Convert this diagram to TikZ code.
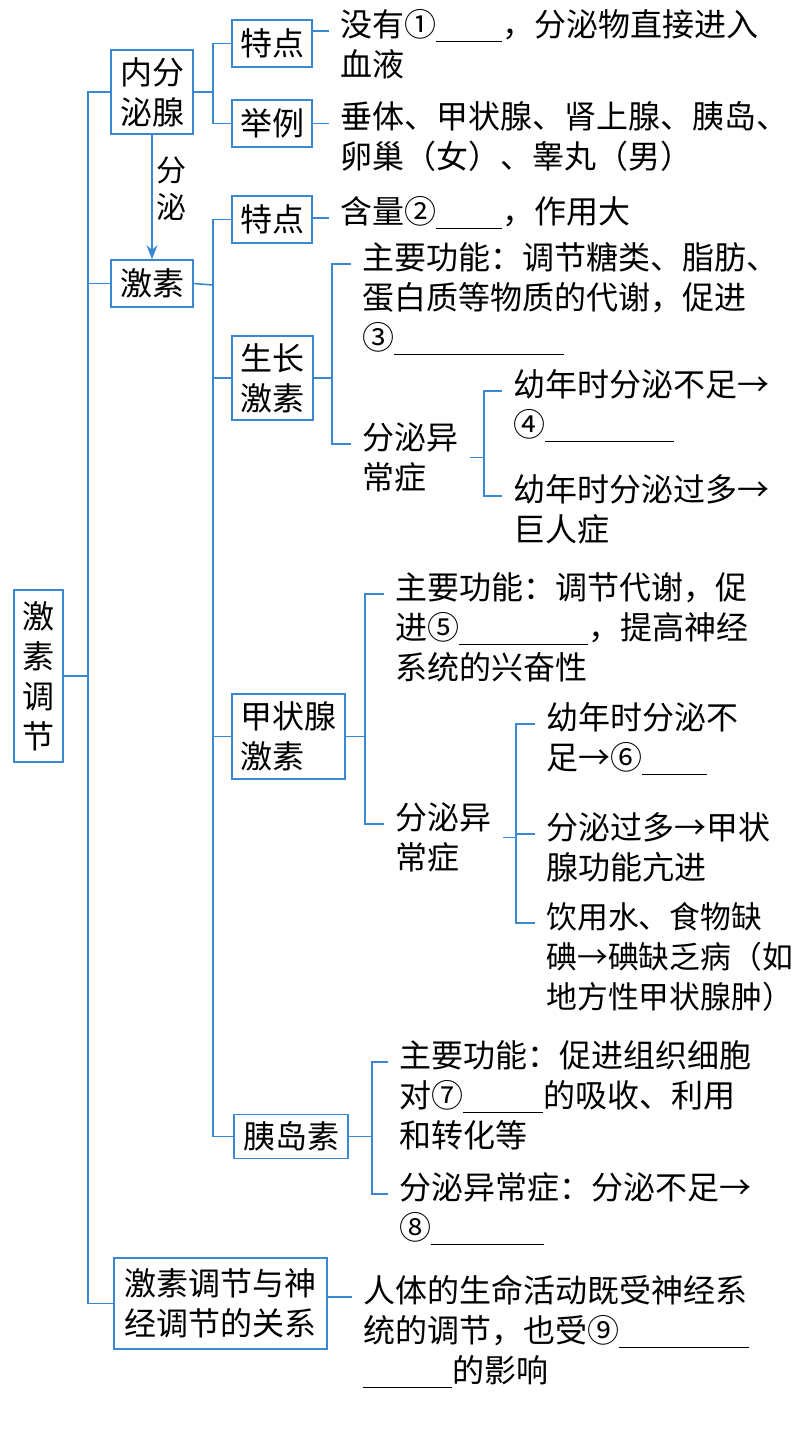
\documentclass[tikz,border=0pt]{standalone}
\usepackage{fontspec}
\setmainfont{Noto Sans CJK SC}
\usepackage{tikz}
\usetikzlibrary{arrows.meta,positioning,calc}
\definecolor{lineblue}{RGB}{60,135,210}
\newcommand{\fillin}[1]{\rule[-3pt]{#1}{0.6pt}}
\tikzset{
  link/.style={draw=lineblue, line width=0.8pt},
  cbox/.style={draw=lineblue, line width=0.8pt, align=left, inner xsep=4pt, inner ysep=3pt,
    minimum width=40pt, minimum height=23.5pt, font=\fontsize{16pt}{20pt}\selectfont}
}

\begin{document}
\begin{tikzpicture}[x=0.5pt, y=-0.5pt, >=Stealth,
  txt/.style={anchor=mid west, text width=230pt, align=left, inner xsep=5.5pt, inner ysep=0pt,
    font=\fontsize{16pt}{20pt}\selectfont},
  short/.style={txt, text width=48pt}]
\useasboundingbox (0,0) rectangle (797,1431);
% boxes
\node[cbox, minimum width=24.5pt, minimum height=86pt] (root) at (38.5,676) {激\\素\\调\\节};
\node[cbox, minimum width=41pt, minimum height=42pt] (nfm) at (152,92) {内分\\泌腺};
\node[cbox] (td1) at (272,43.5) {特点};
\node[cbox] (jl) at (272,123.5) {举例};
\node[cbox, minimum width=41pt] (jisu) at (152,283.5) {激素};
\node[cbox] (td2) at (272,219.5) {特点};
\node[cbox, minimum width=40.5pt, minimum height=42pt] (gh) at (272.5,378) {生长\\激素};
\node[cbox, minimum width=56.5pt, minimum height=42.5pt] (jz) at (288.5,736.5) {甲状腺\\激素};
\node[cbox, minimum width=57pt, minimum height=22pt] (yd) at (291,1136.5) {胰岛素};
\node[cbox, minimum width=106.5pt, minimum height=45.5pt] (gx) at (220.5,1303.5) {激素调节与神\\经调节的关系};
% texts
\node[txt] (t1) at (329,31) {没有①\fillin{33pt}，分泌物直接进入\\血液};
\node[txt] (t2) at (329,123.5) {垂体、甲状腺、肾上腺、胰岛、\\卵巢（女）、睾丸（男）};
\node[txt] (t3) at (329,218) {含量②\fillin{33pt}，作用大};
\node[txt] (t4) at (351,264) {主要功能：调节糖类、脂肪、\\蛋白质等物质的代谢，促进\\③\fillin{85pt}};
\node[short] (t5) at (351,444) {分泌异\\常症};
\node[txt] (t6) at (502,391) {幼年时分泌不足→\\④\fillin{64.5pt}};
\node[txt] (t7) at (502,496) {幼年时分泌过多→\\巨人症};
\node[txt] (t8) at (384,594) {主要功能：调节代谢，促\\进⑤\fillin{64.5pt}，提高神经\\系统的兴奋性};
\node[short] (t9) at (384,824) {分泌异\\常症};
\node[txt] (t10) at (535,724) {幼年时分泌不\\足→⑥\fillin{32.5pt}};
\node[txt] (t11) at (535,834) {分泌过多→甲状\\腺功能亢进};
\node[txt, font=\fontsize{15.4pt}{20pt}\selectfont] (t12) at (535,923) {饮用水、食物缺\\碘→碘缺乏病（如\\地方性甲状腺肿）};
\node[txt] (t13) at (388,1062) {主要功能：促进组织细胞\\对⑦\fillin{40pt}的吸收、利用\\和转化等};
\node[txt] (t14) at (388,1194) {分泌异常症：分泌不足→\\⑧\fillin{56.5pt}};
\node[txt] (t15) at (352,1297) {人体的生命活动既受神经系\\统的调节，也受⑨\fillin{65pt}\\\fillin{44.5pt}的影响};
% junctions
\coordinate (j0) at (88,676);
\coordinate (j1) at (213,92);
\coordinate (j2) at (213,285);
\coordinate (b1) at ($(gh.east)+(18,0)$);
\coordinate (b2) at ($(t5.east)+(14,0)$);
\coordinate (b3) at ($(jz.east)+(19,0)$);
\coordinate (b4) at ($(t9.east)+(13,0)$);
\coordinate (b5) at ($(yd.east)+(23,0)$);
% connectors
\draw[link] (root.east) -- (j0);
\draw[link] (nfm.west) -| (j0) |- (gx.west);
\draw[link] (jisu.west) -- (jisu.west -| j0);
\draw[link] (nfm.east) -- (j1);
\draw[link] (td1.west) -| (j1) |- (jl.west);
\draw[link, ->, >={Stealth[length=7pt, width=5.5pt]}] (nfm.south) -- node[pos=0.43, right=0pt, inner sep=2pt, align=center,
  font=\fontsize{15pt}{18.5pt}\selectfont] (fm) {分\\泌} (jisu.north);
\draw[link] (jisu.east) -- (j2);
\draw[link] (td2.west) -| (j2) |- (yd.west);
\draw[link] (gh.west) -- (gh.west -| j2);
\draw[link] (jz.west) -- (jz.west -| j2);
\draw[link] (td1.east |- t1.mid west) -- (t1.mid west);
\draw[link] (jl.east |- t2.mid west) -- (t2.mid west);
\draw[link] (td2.east |- t3.mid west) -- (t3.mid west);
\draw[link] (gh.east) -- (b1);
\draw[link] (t4.mid west) -| (b1) |- (t5.mid west);
\draw[link] (t5.east) -- (b2);
\draw[link] (t6.mid west) -| (b2) |- (t7.mid west);
\draw[link] (jz.east) -- (b3);
\draw[link] (t8.mid west) -| (b3) |- (t9.mid west);
\draw[link] (t9.east) -- (b4);
\draw[link] (t10.mid west) -| (b4) |- (t12.mid west);
\draw[link] (t11.mid west) -- (t11.mid west -| b4);
\draw[link] (yd.east) -- (b5);
\draw[link] (t13.mid west) -| (b5) |- (t14.mid west);
\draw[link] (gx.east |- t15.mid west) -- (t15.mid west);
\end{tikzpicture}
\end{document}
